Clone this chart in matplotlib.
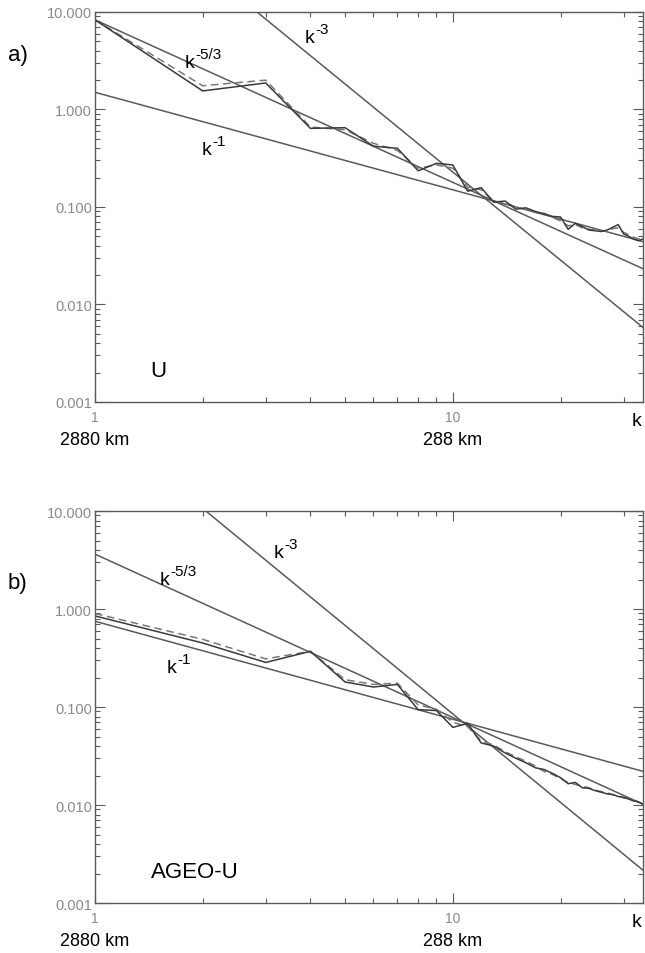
import numpy as np
import matplotlib
matplotlib.use("Agg")
import matplotlib.pyplot as plt
from matplotlib.ticker import LogLocator, FuncFormatter, NullFormatter

plt.rcParams['font.family'] = ['Liberation Sans', 'DejaVu Sans']

# wavenumbers
k = np.arange(1, 35)

# panel a) U spectrum (solid / dashed)
u_solid = [8.3, 1.55, 1.87, 0.64, 0.65, 0.42, 0.40, 0.235, 0.28, 0.27,
           0.145, 0.158, 0.112, 0.115, 0.095, 0.098, 0.090, 0.085, 0.080, 0.079,
           0.059, 0.068, 0.063, 0.058, 0.057, 0.056, 0.058, 0.062, 0.066, 0.053,
           0.050, 0.047, 0.045, 0.047]
u_dash = [8.3, 1.75, 2.00, 0.66, 0.62, 0.45, 0.38, 0.25, 0.27, 0.25,
          0.160, 0.150, 0.115, 0.110, 0.100, 0.094, 0.088, 0.086, 0.078, 0.072,
          0.064, 0.066, 0.061, 0.059, 0.058, 0.057, 0.056, 0.060, 0.061, 0.055,
          0.052, 0.049, 0.047, 0.046]

# panel b) AGEO-U spectrum
ag_solid = [0.85, 0.45, 0.285, 0.37, 0.18, 0.16, 0.17, 0.094, 0.092, 0.062,
            0.068, 0.043, 0.040, 0.034, 0.030, 0.027, 0.024, 0.023, 0.021, 0.019,
            0.0165, 0.017, 0.015, 0.0148, 0.0140, 0.0135, 0.0130, 0.0128, 0.0122, 0.0120,
            0.0115, 0.0110, 0.0108, 0.0102]
ag_dash = [0.90, 0.49, 0.31, 0.37, 0.19, 0.17, 0.175, 0.105, 0.095, 0.070,
           0.063, 0.045, 0.041, 0.035, 0.031, 0.028, 0.025, 0.022, 0.0205, 0.0185,
           0.0170, 0.0162, 0.0155, 0.0150, 0.0142, 0.0137, 0.0133, 0.0127, 0.0124, 0.0118,
           0.0116, 0.0112, 0.0107, 0.0104]

# power-law reference lines: coefficient A in A * k^-n
slopes = [1.0, 5.0 / 3.0, 3.0]
coef_a = [1.5, 8.3, 228.0]
coef_b = [0.75, 3.63, 85.0]

sup_labels = ['-1', '-5/3', '-3']
label_pos_a = [(1.99, 0.35), (1.78, 2.73), (3.86, 4.92)]
label_pos_b = [(1.59, 0.225), (1.52, 1.79), (3.16, 3.38)]

GRAY = '#8a8a8a'
LINE = '#5a5a5a'

fig = plt.figure(figsize=(6.45, 9.54), dpi=100)
ax_a = fig.add_axes([0.1473, 0.5776, 0.8496, 0.4088])
ax_b = fig.add_axes([0.1473, 0.0524, 0.8496, 0.4109])

kk = np.linspace(1, 34, 200)


def style_axis(ax):
    ax.set_xscale('log')
    ax.set_yscale('log')
    ax.set_xlim(1, 34)
    ax.set_ylim(0.001, 10)
    ax.yaxis.set_major_locator(LogLocator(base=10, numticks=10))
    ax.yaxis.set_minor_locator(LogLocator(base=10, subs=np.arange(2, 10), numticks=10))
    ax.yaxis.set_major_formatter(FuncFormatter(lambda v, p: '%.3f' % v))
    ax.yaxis.set_minor_formatter(NullFormatter())
    ax.xaxis.set_major_locator(LogLocator(base=10, numticks=10))
    ax.xaxis.set_minor_locator(LogLocator(base=10, subs=np.arange(2, 10), numticks=10))
    ax.xaxis.set_major_formatter(FuncFormatter(lambda v, p: '%d' % round(v)))
    ax.xaxis.set_minor_formatter(NullFormatter())
    ax.tick_params(which='both', direction='in', top=True, right=True,
                   color=LINE, width=0.8)
    ax.tick_params(which='major', length=7)
    ax.tick_params(which='minor', length=3.5)
    ax.tick_params(axis='y', labelsize=10.5, labelcolor=GRAY, pad=2)
    ax.tick_params(axis='x', labelsize=10, labelcolor=GRAY, pad=6)
    for s in ax.spines.values():
        s.set_color(LINE)
        s.set_linewidth(1.0)
    ax.annotate('2880 km', xy=(1, 0), xycoords=('data', 'axes fraction'),
                xytext=(0, -27), textcoords='offset points',
                ha='center', va='center', fontsize=13)
    ax.annotate('288 km', xy=(10, 0), xycoords=('data', 'axes fraction'),
                xytext=(0, -27), textcoords='offset points',
                ha='center', va='center', fontsize=13)
    ax.annotate('k', xy=(31.6, 0), xycoords=('data', 'axes fraction'),
                xytext=(0, -13), textcoords='offset points',
                ha='left', va='center', fontsize=14, annotation_clip=False)


for ax, solid, dash, coefs, lpos, name, tag, ty in [
        (ax_a, u_solid, u_dash, coef_a, label_pos_a, 'U', 'a)', 55),
        (ax_b, ag_solid, ag_dash, coef_b, label_pos_b, 'AGEO-U', 'b)', 583)]:
    style_axis(ax)
    for n, A in zip(slopes, coefs):
        ax.plot(kk, A * kk ** (-n), color=LINE, lw=1.1)
    ax.plot(k, dash, color='#777777', lw=1.1, ls=(0, (5, 3)))
    ax.plot(k, solid, color='#3a3a3a', lw=1.1)
    for sup, (x, y) in zip(sup_labels, lpos):
        ax.text(x, y, 'k', fontsize=14, ha='left', va='baseline')
        ax.annotate(sup, xy=(x, y), xytext=(7.5, 6.5), textcoords='offset points',
                    fontsize=11, ha='left', va='baseline')
    ax.text(1.43, 0.0021, name, fontsize=16, ha='left', va='center')
    fig.text(8 / 645, 1 - ty / 954, tag, fontsize=16, ha='left', va='center')

fig.savefig('out.png', dpi=100)
